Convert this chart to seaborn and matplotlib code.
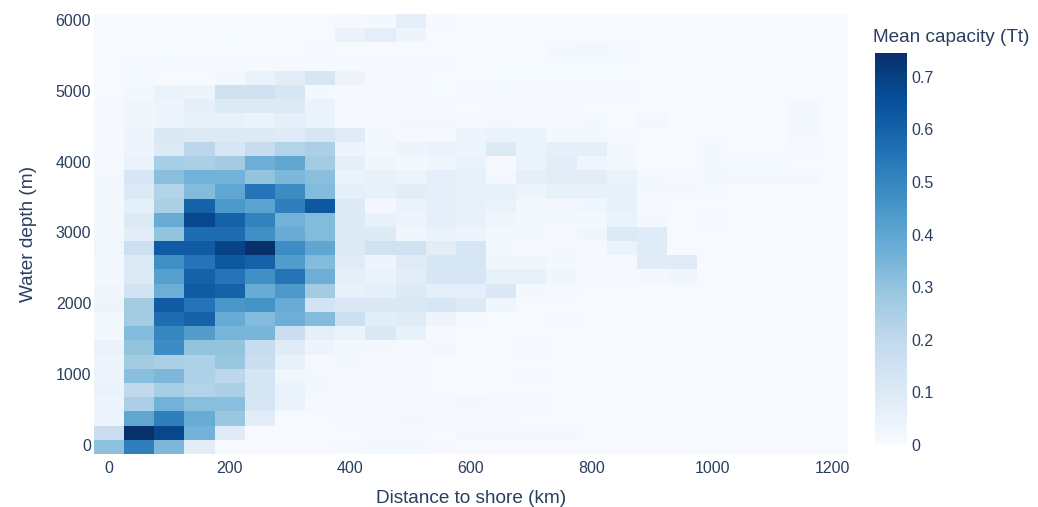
import numpy as np
import pandas as pd
import matplotlib
matplotlib.use("Agg")
import matplotlib.pyplot as plt
import seaborn as sns

# Bin centres
distance_km = list(range(0, 1201, 50))      # 25 columns
depth_m = list(range(0, 6001, 200))         # 31 rows

# Mean storage capacity (Tt) per bin, one list per water-depth bin
r6000 = [.005,.005,.005,.005,.005,.005,.005,.005,.010,.020,.070,.010,.005,.005,.005,.005,.005,.005,.005,.005,.005,.005,.005,.005,.005]
r5800 = [.005,.005,.005,.005,.008,.005,.005,.005,.050,.075,.040,.005,.005,.005,.005,.005,.005,.005,.005,.005,.005,.005,.005,.005,.005]
r5600 = [.005,.005,.008,.008,.008,.008,.008,.010,.008,.005,.005,.005,.005,.005,.005,.015,.025,.012,.005,.005,.005,.005,.005,.005,.005]
r5400 = [.005,.012,.012,.010,.010,.010,.010,.012,.010,.012,.010,.010,.008,.008,.008,.008,.008,.008,.005,.005,.005,.005,.005,.005,.005]
r5200 = [.005,.012,.005,.005,.015,.050,.080,.120,.040,.010,.010,.008,.005,.008,.008,.008,.008,.008,.005,.005,.005,.005,.005,.005,.005]
r5000 = [.005,.020,.050,.040,.150,.150,.120,.020,.010,.010,.010,.008,.012,.012,.010,.010,.010,.010,.005,.005,.005,.005,.005,.005,.005]
r4800 = [.010,.030,.040,.070,.100,.100,.100,.050,.010,.010,.010,.010,.005,.010,.010,.010,.008,.005,.005,.005,.005,.005,.005,.015,.005]
r4600 = [.010,.030,.040,.060,.060,.050,.070,.050,.010,.010,.015,.015,.010,.015,.010,.010,.020,.005,.015,.005,.005,.005,.005,.015,.005]
r4400 = [.010,.040,.110,.100,.100,.100,.090,.120,.090,.020,.010,.010,.040,.050,.050,.020,.015,.010,.005,.005,.005,.005,.005,.015,.005]
r4200 = [.010,.040,.100,.210,.120,.180,.230,.250,.040,.020,.040,.050,.040,.100,.050,.070,.070,.020,.005,.005,.015,.005,.005,.010,.005]
r4000 = [.010,.050,.260,.250,.270,.370,.400,.270,.070,.030,.020,.030,.050,.010,.050,.080,.035,.020,.005,.005,.015,.012,.012,.005,.005]
r3800 = [.015,.120,.320,.360,.360,.300,.340,.320,.050,.060,.040,.070,.060,.020,.070,.080,.080,.050,.020,.010,.015,.015,.015,.015,.005]
r3600 = [.020,.100,.230,.330,.400,.550,.480,.330,.070,.060,.080,.070,.060,.060,.040,.060,.060,.060,.020,.015,.012,.005,.005,.005,.005]
r3400 = [.015,.070,.250,.600,.440,.410,.520,.630,.100,.020,.050,.070,.060,.050,.020,.020,.030,.060,.010,.005,.005,.005,.005,.005,.005]
r3200 = [.015,.100,.380,.680,.600,.510,.360,.330,.100,.060,.040,.070,.060,.030,.015,.020,.020,.050,.015,.005,.012,.005,.005,.005,.005]
r3000 = [.020,.080,.300,.570,.570,.470,.380,.330,.100,.100,.030,.050,.040,.020,.020,.010,.030,.100,.090,.005,.005,.005,.005,.005,.005]
r2800 = [.030,.160,.620,.620,.690,.745,.480,.400,.100,.150,.150,.080,.120,.020,.010,.020,.010,.050,.090,.005,.005,.005,.005,.005,.005]
r2600 = [.020,.100,.470,.550,.630,.600,.430,.330,.090,.040,.090,.120,.120,.030,.030,.015,.010,.010,.090,.090,.005,.005,.005,.005,.005]
r2400 = [.020,.100,.420,.600,.550,.470,.550,.370,.070,.050,.080,.120,.120,.060,.060,.030,.010,.010,.020,.030,.005,.005,.005,.005,.005]
r2200 = [.030,.140,.370,.620,.600,.380,.440,.270,.060,.070,.100,.070,.070,.110,.020,.010,.005,.005,.005,.005,.005,.005,.005,.005,.005]
r2000 = [.040,.270,.620,.550,.450,.460,.380,.140,.110,.110,.110,.120,.100,.030,.005,.005,.005,.005,.005,.005,.005,.005,.005,.005,.005]
r1800 = [.020,.270,.570,.600,.380,.330,.370,.330,.160,.080,.090,.040,.010,.005,.005,.012,.005,.005,.005,.005,.005,.005,.005,.005,.005]
r1600 = [.020,.330,.500,.430,.350,.350,.170,.070,.050,.110,.060,.010,.005,.005,.005,.005,.005,.005,.005,.005,.005,.005,.005,.005,.005]
r1400 = [.050,.300,.480,.300,.300,.180,.090,.040,.020,.015,.010,.015,.005,.005,.010,.005,.005,.005,.005,.005,.005,.005,.005,.005,.005]
r1200 = [.040,.270,.250,.240,.290,.170,.060,.010,.020,.010,.010,.005,.005,.005,.005,.005,.005,.005,.005,.005,.005,.005,.005,.005,.005]
r1000 = [.040,.320,.340,.240,.210,.130,.030,.015,.010,.010,.010,.005,.005,.005,.010,.005,.005,.005,.005,.005,.005,.005,.005,.005,.005]
r800  = [.050,.200,.260,.230,.250,.130,.050,.015,.010,.010,.010,.005,.005,.005,.005,.005,.005,.005,.005,.005,.005,.005,.005,.005,.005]
r600  = [.040,.250,.360,.320,.320,.120,.050,.010,.010,.010,.010,.010,.015,.010,.010,.005,.005,.005,.005,.005,.005,.005,.005,.005,.005]
r400  = [.040,.400,.520,.380,.290,.080,.005,.005,.010,.010,.015,.010,.010,.010,.005,.005,.005,.005,.005,.005,.005,.005,.005,.005,.005]
r200  = [.170,.745,.680,.360,.090,.005,.005,.005,.005,.010,.010,.005,.015,.015,.020,.015,.005,.005,.005,.005,.005,.005,.005,.005,.005]
r0    = [.310,.520,.340,.080,.005,.005,.005,.005,.010,.015,.015,.010,.005,.005,.005,.005,.005,.005,.005,.005,.005,.005,.005,.005,.005]

x_ticks = [0, 200, 400, 600, 800, 1000, 1200]
y_ticks = [0, 1000, 2000, 3000, 4000, 5000, 6000]
cbar_ticks = [0, 0.1, 0.2, 0.3, 0.4, 0.5, 0.6, 0.7]
cbar_ticklabels = ["0", "0.1", "0.2", "0.3", "0.4", "0.5", "0.6", "0.7"]

rows_top_down = [r6000, r5800, r5600, r5400, r5200, r5000, r4800, r4600, r4400,
                 r4200, r4000, r3800, r3600, r3400, r3200, r3000, r2800, r2600,
                 r2400, r2200, r2000, r1800, r1600, r1400, r1200, r1000, r800,
                 r600, r400, r200, r0]
grid = pd.DataFrame(np.array(rows_top_down), index=depth_m[::-1], columns=distance_km)

TEXT = "#2a3f5f"
sns.set_theme(style="white")
plt.rcParams["font.family"] = ["Liberation Sans", "DejaVu Sans"]

W, H = 1038, 507
fig = plt.figure(figsize=(W / 100, H / 100), dpi=100)
ax = fig.add_axes([94 / W, 1 - 454 / H, (848 - 94) / W, (454 - 14) / H])
cax = fig.add_axes([875 / W, 1 - 445 / H, 32 / W, (445 - 53) / H])

sns.heatmap(grid, ax=ax, cmap="Blues", vmin=0, vmax=0.745, cbar=True, cbar_ax=cax,
            linewidths=0, rasterized=True)

# Tick positions in the heatmap's cell coordinates
cols = list(grid.columns)
idx = list(grid.index)
ax.set_xticks([cols.index(v) + 0.5 for v in x_ticks])
ax.set_xticklabels([str(v) for v in x_ticks], rotation=0)
ax.set_yticks([idx.index(v) + 0.5 for v in y_ticks])
ax.set_yticklabels([str(v) for v in y_ticks], rotation=0)
ax.tick_params(axis="both", length=0, labelsize=11.5, labelcolor=TEXT)
ax.tick_params(axis="x", pad=5)
ax.tick_params(axis="y", pad=2)

ax.set_xlabel("Distance to shore (km)", fontsize=13.7, color=TEXT)
ax.set_ylabel("Water depth (m)", fontsize=13.7, color=TEXT)
ax.xaxis.set_label_coords(0.5, -0.082)
ax.yaxis.set_label_coords(-0.075, 0.5)
for s in ax.spines.values():
    s.set_visible(False)

cax.set_yticks(cbar_ticks)
cax.set_yticklabels(cbar_ticklabels)
cax.tick_params(length=0, labelsize=11.5, labelcolor=TEXT, pad=3)
for s in cax.spines.values():
    s.set_visible(False)
fig.text(873 / W, 1 - 38 / H, "Mean capacity (Tt)", fontsize=13.7, color=TEXT,
         ha="left", va="center")

fig.savefig("out.png", dpi=100, facecolor="white")
